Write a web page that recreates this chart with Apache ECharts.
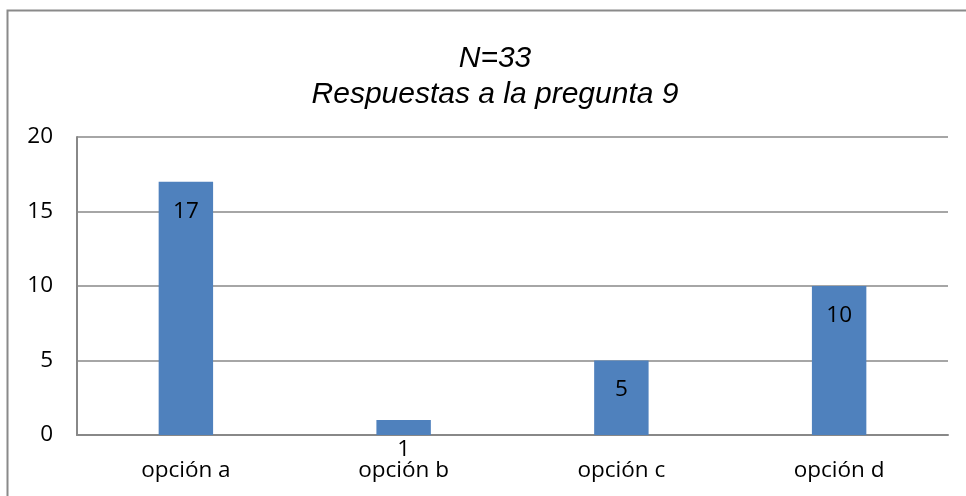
<!DOCTYPE html>
<html>
<head>
<meta charset="utf-8">
<script src="https://cdn.jsdelivr.net/npm/echarts@6/dist/echarts.min.js"></script>
<style>
html,body{margin:0;padding:0;background:#fff;}
#main{width:966px;height:496px;}
</style>
</head>
<body>
<div id="main"></div>
<script>
const titleLines = ['N=33', 'Respuestas a la pregunta 9'];
const categories = ['opción a', 'opción b', 'opción c', 'opción d'];
const values = [17, 1, 5, 10];
const yTicks = { min: 0, max: 20, interval: 5 };

const chart = echarts.init(document.getElementById('main'), null, { renderer: 'canvas' });
const labelFont = 'Open Sans';
chart.setOption({
  animation: false,
  backgroundColor: '#ffffff',
  graphic: [{
    type: 'rect',
    shape: { x: 7.5, y: 10.5, width: 980, height: 500 },
    style: { fill: 'none', stroke: '#8a8a8a', lineWidth: 2 },
    silent: true
  }],
  title: {
    text: titleLines.join('\n'),
    left: 490,
    textAlign: 'center',
    top: 36,
    textStyle: {
      fontFamily: 'Liberation Sans',
      fontStyle: 'italic',
      fontWeight: 'normal',
      fontSize: 30,
      lineHeight: 36,
      color: '#000'
    }
  },
  grid: { left: 77, right: 18, top: 137, bottom: 61, containLabel: false },
  xAxis: {
    type: 'category',
    data: categories,
    axisLine: { show: true, lineStyle: { color: '#888888', width: 2 } },
    axisTick: { show: false },
    axisLabel: { color: '#000', fontFamily: labelFont, fontSize: 22.5, margin: 24 }
  },
  yAxis: {
    type: 'value',
    min: yTicks.min,
    max: yTicks.max,
    interval: yTicks.interval,
    axisLine: { show: true, lineStyle: { color: '#888888', width: 2 } },
    axisTick: { show: false },
    splitLine: { show: true, lineStyle: { color: '#888888', width: 1.5 } },
    axisLabel: { color: '#000', fontFamily: labelFont, fontSize: 22.5, margin: 24 }
  },
  series: [{
    type: 'bar',
    data: values,
    barWidth: '25%',
    itemStyle: { color: '#4f81bd' },
    label: {
      show: true,
      position: 'insideTop',
      distance: 18,
      color: '#000',
      fontFamily: labelFont,
      fontSize: 22.5
    }
  }]
});
</script>
</body>
</html>
